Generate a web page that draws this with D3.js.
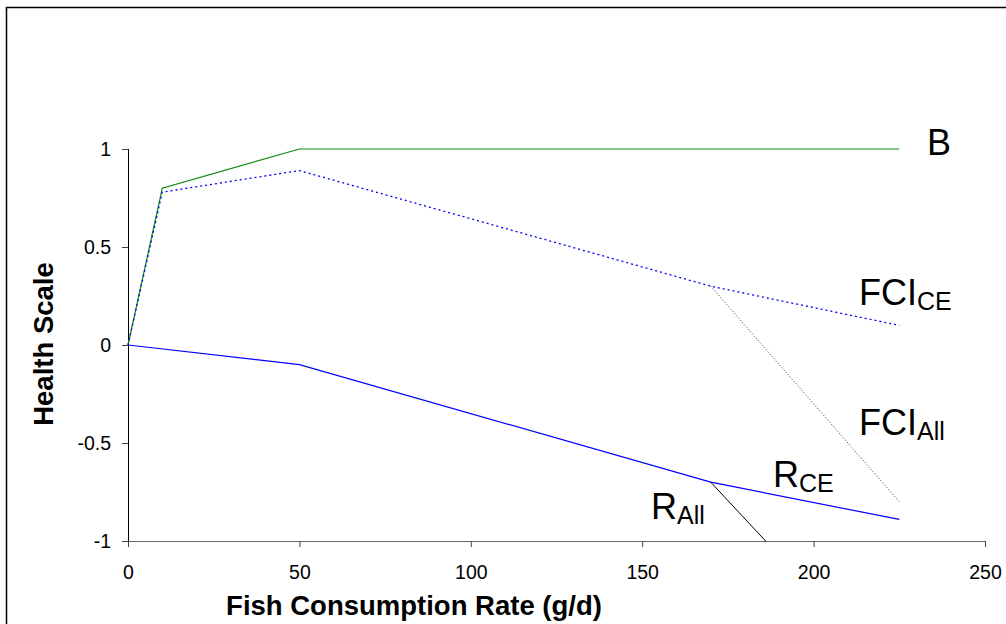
<!DOCTYPE html>
<html>
<head>
<meta charset="utf-8">
<script src="https://cdn.jsdelivr.net/npm/d3@7"></script>
<style>
body { margin: 0; background: #fff; }
text { font-family: Arial, "Liberation Sans", sans-serif; }
</style>
</head>
<body>
<div id="canvas"></div>
<script>
// values
const bX = [0, 10, 50, 225], bY = [0, 0.8, 1, 1];
const fciCeX = [0, 10, 50, 170, 225], fciCeY = [0, 0.78, 0.89, 0.3, 0.1];
const fciAllX = [170, 225], fciAllY = [0.3, -0.8];
const rCeX = [0, 50, 170, 225], rCeY = [0, -0.1, -0.7, -0.89];
const rAllX = [170, 186], rAllY = [-0.7, -1];
const xTicks = [0, 50, 100, 150, 200, 250];
const yTicks = [-1, -0.5, 0, 0.5, 1];

const W = 1006, H = 624;
const svg = d3.select("#canvas").append("svg").attr("width", W).attr("height", H);

// frame (only top/left visible in the crop)
svg.append("rect").attr("x", 6.5).attr("y", 7.5).attr("width", 1100).attr("height", 700)
	.attr("fill", "none").attr("stroke", "#000").attr("stroke-width", 1.5);

const x = d3.scaleLinear().domain([0, 250]).range([128, 985]);
const y = d3.scaleLinear().domain([-1, 1]).range([541, 149]);

const gx = svg.append("g").attr("transform", `translate(0,${y(-1)})`)
	.call(d3.axisBottom(x).tickValues(xTicks).tickSize(6).tickPadding(18).tickFormat(d => String(d)));
gx.select(".domain").attr("d", `M122,0.5H${x(250)}`).attr("stroke", "#666");
gx.selectAll(".tick line").attr("stroke", "#444");
gx.selectAll("text").attr("font-size", 19.5).attr("font-family", "Arial, Liberation Sans").attr("fill", "#000");

const gy = svg.append("g").attr("transform", `translate(${x(0)},0)`)
	.call(d3.axisLeft(y).tickValues(yTicks).tickSize(6).tickPadding(11).tickFormat(d => String(d)));
gy.select(".domain").attr("d", `M0.5,${y(1)}V${y(-1)}`).attr("stroke", "#000");
gy.selectAll(".tick line").attr("stroke", "#444");
gy.selectAll("text").attr("font-size", 19.5).attr("font-family", "Arial, Liberation Sans").attr("fill", "#000");

const line = d3.line().x(d => x(d[0])).y(d => y(d[1]));
const pts = (xs, ys) => xs.map((v, i) => [v, ys[i]]);

svg.append("path").attr("d", line(pts(bX, bY))).attr("fill", "none").attr("stroke", "#108a10").attr("stroke-width", 1.2);
svg.append("path").attr("d", line(pts(fciCeX, fciCeY))).attr("fill", "none").attr("stroke", "#0000ff")
	.attr("stroke-width", 1.3).attr("stroke-dasharray", "2,3");
svg.append("path").attr("d", line(pts(fciAllX, fciAllY))).attr("fill", "none").attr("stroke", "#333")
	.attr("stroke-width", 1).attr("stroke-dasharray", "1,2");
svg.append("path").attr("d", line(pts(rCeX, rCeY))).attr("fill", "none").attr("stroke", "#0000ff").attr("stroke-width", 1.2);
svg.append("path").attr("d", line(pts(rAllX, rAllY))).attr("fill", "none").attr("stroke", "#000").attr("stroke-width", 1);

// series labels
function label(px, py, main, sub) {
	const t = svg.append("text").attr("x", px).attr("y", py).attr("font-size", 36).attr("fill", "#000");
	t.append("tspan").text(main);
	if (sub) t.append("tspan").attr("font-size", 25).attr("dy", 5).text(sub);
}
label(927, 155, "B");
label(859, 305, "FCI", "CE");
label(859, 435, "FCI", "All");
label(773, 487, "R", "CE");
label(651, 519, "R", "All");

// axis titles
svg.append("text").attr("x", 414).attr("y", 615).attr("text-anchor", "middle")
	.attr("font-size", 27.5).attr("font-weight", "bold").text("Fish Consumption Rate (g/d)");
svg.append("text").attr("transform", "translate(53,344) rotate(-90)").attr("text-anchor", "middle")
	.attr("font-size", 27.5).attr("font-weight", "bold").text("Health Scale");
</script>
</body>
</html>
